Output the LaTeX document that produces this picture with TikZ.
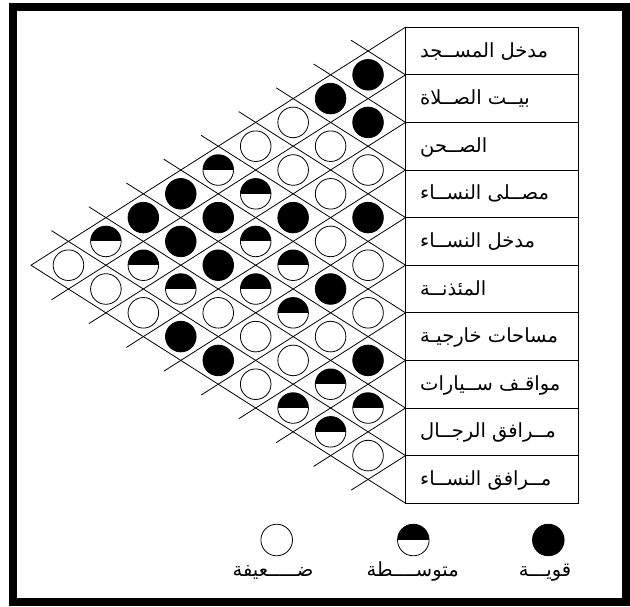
\documentclass[tikz,border=0pt]{standalone}
\usepackage{fontspec}
\newfontfamily\arabicfont[Script=Arabic]{DejaVu Sans}
\TeXXeTstate=1
\tikzset{
  gridline/.style={line width=0.8pt, line cap=round},
  dot/.style={draw, line width=0.8pt, circle, minimum size=30.6pt, inner sep=0pt, fill=white},
  strong/.style={dot, fill=black},
  weak/.style={dot},
  medium/.style={dot, path picture={\fill[black] (path picture bounding box.west) rectangle (path picture bounding box.north east);}},
  legdot/.style={minimum size=31.6pt},
  lbl/.style={inner sep=0pt, font=\arabicfont\fontsize{19.5}{21}\selectfont},
}
\begin{document}
\begin{tikzpicture}[x=1pt,y=-1pt]
\useasboundingbox (0,0) rectangle (630,606);
\def\X{405.5}\def\Y{27.2}\def\H{47.6}\def\D{37.45}
% frame
\draw[line width=8pt] (12.5,6.5) rectangle (625.5,602);
% row boundary coordinates
\foreach \k in {0,...,10}{\coordinate (r\k) at (\X,{\Y+\k*\H});}
% label box
\coordinate (boxse) at (578,{\Y+10*\H});
\draw[gridline] (r0) rectangle (boxse);
\foreach \k in {1,...,9}{\draw[gridline] (r\k) -- ++(172.5,0);}
% down-left lines
\foreach \k in {0,...,9}{
  \pgfmathsetmacro\e{\k==0 ? 0 : 0.45}
  \coordinate (dl\k) at ({\X-(10-\k+\e)*\D},{\Y+\k*\H+(10-\k+\e)*\H/2});
  \draw[gridline] (r\k) -- (dl\k);
}
% up-left lines
\foreach \k in {1,...,10}{
  \pgfmathsetmacro\e{\k==10 ? 0 : 0.45}
  \coordinate (ul\k) at ({\X-(\k+\e)*\D},{\Y+\k*\H-(\k+\e)*\H/2});
  \draw[gridline] (r\k) -- (ul\k);
}
% cells
\foreach \i/\j/\t in {
 0/1/strong,1/2/strong,2/3/weak,3/4/strong,4/5/weak,5/6/weak,6/7/strong,7/8/medium,8/9/weak,
 0/2/strong,1/3/weak,2/4/weak,3/5/weak,4/6/strong,5/7/weak,6/8/medium,7/9/medium,
 0/3/weak,1/4/weak,2/5/strong,3/6/medium,4/7/medium,5/8/weak,6/9/medium,
 0/4/weak,1/5/medium,2/6/medium,3/7/medium,4/8/weak,5/9/weak,
 0/5/medium,1/6/strong,2/7/strong,3/8/weak,4/9/strong,
 0/6/strong,1/7/strong,2/8/medium,3/9/strong,
 0/7/strong,1/8/medium,2/9/weak,
 0/8/medium,1/9/weak,
 0/9/weak}{
  \node[\t] (c\i-\j) at ({\X-(\j-\i)*\D},{\Y+\H*((\i+\j)/2+0.5)}) {};
}
% labels
\foreach \k/\txt in {
 0/{مدخل المســجد},
 1/{بيــت الصــلاة},
 2/{الصــحن},
 3/{مصــلى النســاء},
 4/{مدخل النســاء},
 5/{المئذنــة},
 6/{مساحات خارجيـة},
 7/{مواقـف ســيارات},
 8/{مــرافق الرجــال},
 9/{مــرافق النســاء}}{
  \node[lbl, anchor=base west] (l\k) at (420,{\Y+\H*(\k+0.5)+6}) {\beginR\txt\endR};
}
% legend
\node[weak, legdot] (lw) at (276.7,540) {};
\node[medium, legdot] (lm) at (413.3,540) {};
\node[strong, legdot] (ls) at (548.3,540) {};
\node[lbl, anchor=base] (tw) at (273,576) {\beginR ضـــــعيفة\endR};
\node[lbl, anchor=base] (tm) at (412.7,576) {\beginR متوســــطة\endR};
\node[lbl, anchor=base] (ts) at (545,576) {\beginR قويـــة\endR};
\end{tikzpicture}
\end{document}
